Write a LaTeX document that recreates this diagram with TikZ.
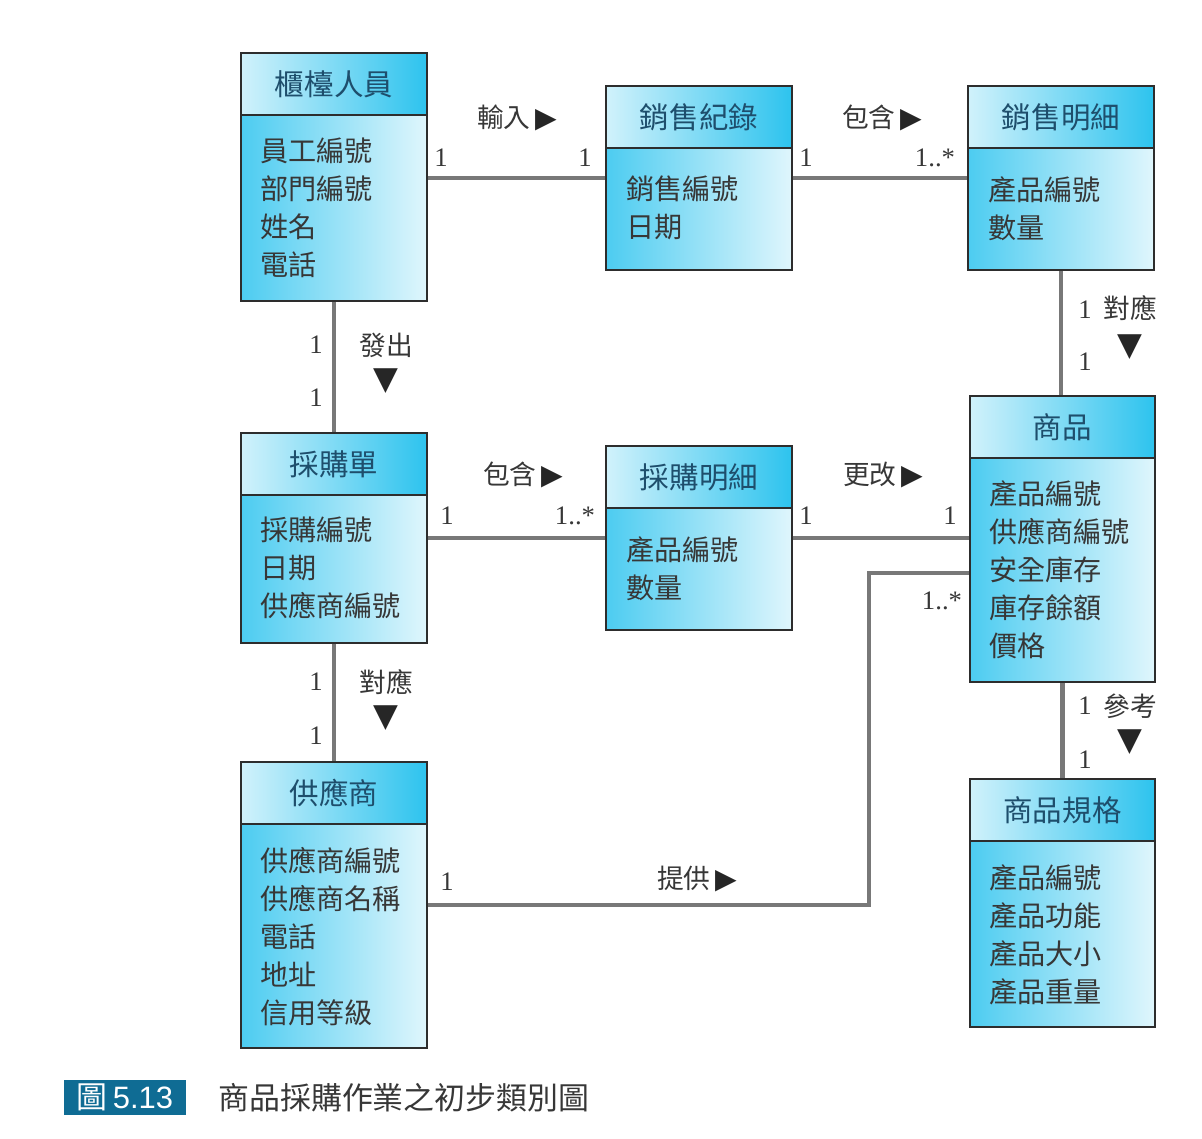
\documentclass[tikz,border=0pt]{standalone}
\usepackage{fontspec}
\setmainfont{Liberation Serif}
\newfontfamily\cjk{Noto Sans CJK TC}
\newfontfamily\symf{DejaVu Sans}
\newfontfamily\capsf{Liberation Sans}
\usepackage{tikz}
\usetikzlibrary{positioning}
\definecolor{bcyan}{RGB}{45,195,238}
\definecolor{boxline}{RGB}{45,45,45}
\definecolor{hdtext}{RGB}{30,78,108}
\definecolor{txt}{RGB}{55,55,55}
\definecolor{conngray}{RGB}{120,120,120}
\definecolor{capblue}{RGB}{15,108,148}
\tikzstyle{cls} = [rectangle, draw=boxline, line width=1.2pt, minimum width=4.65cm, left color=bcyan!85, middle color=white, right color=white!85!bcyan]
\tikzstyle{hd} = [rectangle, draw=boxline, line width=1.2pt, minimum width=4.65cm, minimum height=1.55cm, left color=bcyan!22, right color=bcyan, text=hdtext, font=\cjk\fontsize{21}{25}\selectfont]
\tikzstyle{attr} = [anchor=north west, align=left, inner sep=0pt, text=txt, font=\cjk\fontsize{20}{27}\selectfont]
\tikzstyle{conn} = [draw=conngray, line width=3pt]
\tikzstyle{mult} = [text=txt, font=\fontsize{19}{19}\selectfont]
\tikzstyle{lbl} = [text=txt, font=\cjk\fontsize{19}{19}\selectfont]
\tikzstyle{tri} = [text=black!85, font=\symf\fontsize{23}{23}\selectfont]
\newcommand{\rtri}{{\color{black!85}\symf\fontsize{20}{20}\selectfont ▶}}

\begin{document}
\begin{tikzpicture}[x=0.025cm, y=-0.025cm]

    \useasboundingbox (0,0) rectangle (1202,1138);

    % class boxes
    \node (clerk) [cls, minimum height=6.2cm] at (334,177) {};
    \node (clerkhd) [hd] at (334,84) {櫃檯人員};
    \node (clerkat) [attr] at (260,138) {員工編號\\部門編號\\姓名\\電話};

    \node (salesrec) [cls, minimum height=4.6cm] at (699,178) {};
    \node (salesrechd) [hd] at (699,117) {銷售紀錄};
    \node (salesrecat) [attr] at (626,176) {銷售編號\\日期};

    \node (salesdet) [cls, minimum height=4.6cm] at (1061,178) {};
    \node (salesdethd) [hd] at (1061,117) {銷售明細};
    \node (salesdetat) [attr] at (988,176) {產品編號\\數量};

    \node (po) [cls, minimum height=5.25cm] at (334,538) {};
    \node (pohd) [hd] at (334,464) {採購單};
    \node (poat) [attr] at (260,517) {採購編號\\日期\\供應商編號};

    \node (podet) [cls, minimum height=4.6cm] at (699,538) {};
    \node (podethd) [hd] at (699,477) {採購明細};
    \node (podetat) [attr] at (626,536) {產品編號\\數量};

    \node (product) [cls, minimum width=4.625cm, minimum height=7.15cm] at (1062.5,539) {};
    \node (producthd) [hd, minimum width=4.625cm] at (1062.5,427) {商品};
    \node (productat) [attr] at (989,480) {產品編號\\供應商編號\\安全庫存\\庫存餘額\\價格};

    \node (supplier) [cls, minimum height=7.15cm] at (334,905) {};
    \node (supplierhd) [hd] at (334,793) {供應商};
    \node (supplierat) [attr] at (260,847) {供應商編號\\供應商名稱\\電話\\地址\\信用等級};

    \node (spec) [cls, minimum width=4.625cm, minimum height=6.2cm] at (1062.5,903) {};
    \node (spechd) [hd, minimum width=4.625cm] at (1062.5,810) {商品規格};
    \node (specat) [attr] at (989,864) {產品編號\\產品功能\\產品大小\\產品重量};

    % associations
    \draw [conn] (clerk.east |- salesrec.west) -- (salesrec.west);
    \draw [conn] (salesrec.east) -- (salesdet.west);
    \draw [conn] (salesdet.south) -- (salesdet.south |- product.north);
    \draw [conn] (clerk.south) -- (po.north);
    \draw [conn] (po.east) -- (podet.west);
    \draw [conn] (podet.east) -- (podet.east -| product.west);
    \draw [conn] (po.south) -- (supplier.north);
    \coordinate (bend) at (869,573);
    \draw [conn] (supplier.east) -| (bend) -- (bend -| product.west);
    \draw [conn] (product.south) -- (spec.north);

    % multiplicities and names
    \node (m1) [mult] at (441,158) {1};
    \node (m2) [mult] at (585,158) {1};
    \node (l1) [lbl] at (517,118) {輸入\,\rtri};

    \node (m3) [mult] at (806,158) {1};
    \node (m4) [mult] at (935,158) {1..*};
    \node (l2) [lbl] at (882,118) {包含\,\rtri};

    \node (m5) [mult] at (1085,310) {1};
    \node (m6) [mult] at (1085,362) {1};
    \node (l3) [lbl] at (1130,308) {對應};
    \node (t3) [tri] at (1130,347) {▼};

    \node (m7) [mult] at (316,345) {1};
    \node (m8) [mult] at (316,398) {1};
    \node (l4) [lbl] at (386,345) {發出};
    \node (t4) [tri] at (386,381) {▼};

    \node (m9) [mult] at (447,516) {1};
    \node (m10) [mult] at (575,516) {1..*};
    \node (l5) [lbl] at (523,475) {包含\,\rtri};

    \node (m11) [mult] at (806,516) {1};
    \node (m12) [mult] at (950,516) {1};
    \node (l6) [lbl] at (883,475) {更改\,\rtri};

    \node (m13) [mult] at (316,682) {1};
    \node (m14) [mult] at (316,736) {1};
    \node (l7) [lbl] at (386,682) {對應};
    \node (t7) [tri] at (386,718) {▼};

    \node (m15) [mult] at (447,882) {1};
    \node (m16) [mult] at (942,601) {1..*};
    \node (l8) [lbl] at (697,879) {提供\,\rtri};

    \node (m17) [mult] at (1085,706) {1};
    \node (m18) [mult] at (1085,760) {1};
    \node (l9) [lbl] at (1130,706) {參考};
    \node (t9) [tri] at (1130,742) {▼};

    % caption
    \node (capno) [fill=capblue, text=white, minimum width=3.05cm, minimum height=0.875cm, inner sep=0pt, font=\fontsize{22}{22}\selectfont] at (125,1097.5) {{\cjk 圖}\,{\capsf 5.13}};
    \node (captxt) [anchor=west, inner sep=0pt, text=txt, font=\cjk\fontsize{22}{22}\selectfont] at (218,1098) {商品採購作業之初步類別圖};

\end{tikzpicture}
\end{document}
